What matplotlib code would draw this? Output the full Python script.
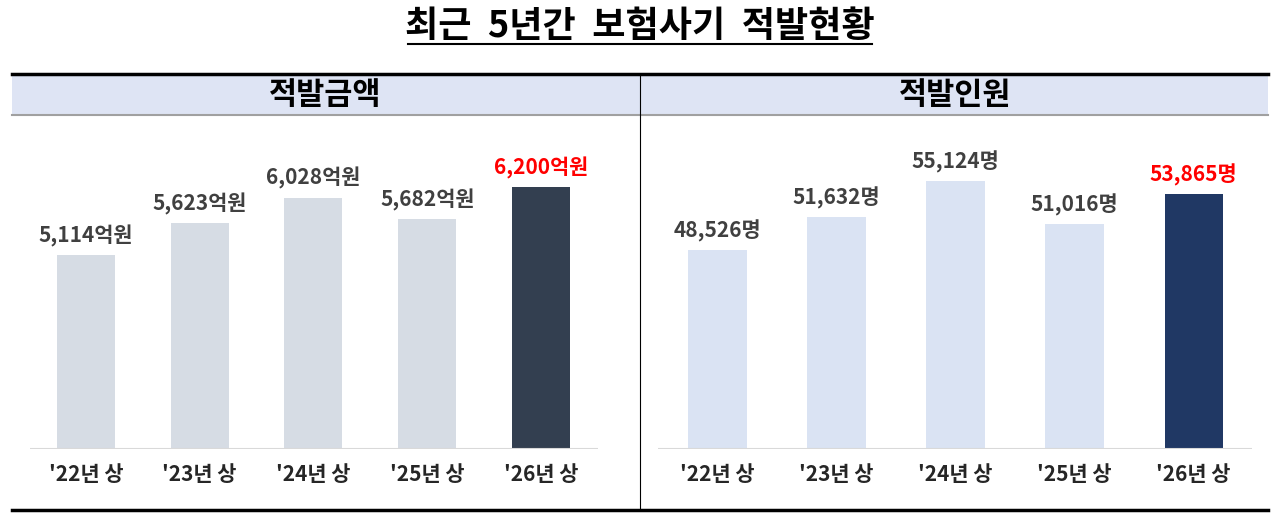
import matplotlib
matplotlib.use("Agg")
import matplotlib.pyplot as plt
from matplotlib.lines import Line2D
from matplotlib.patches import Rectangle

plt.rcParams['font.family'] = ['Noto Sans CJK KR', 'DejaVu Sans']

# data
periods = ["'22년 상", "'23년 상", "'24년 상", "'25년 상", "'26년 상"]
amount = [5114, 5623, 6028, 5682, 6200]      # 억원
people = [48526, 51632, 55124, 51016, 53865]  # 명

W, H = 1280, 522
fig = plt.figure(figsize=(12.8, 5.22), dpi=100)


def px_axes(x0, x1, ytop, ybot):
    # pixel box (origin top-left) -> figure fraction axes
    return fig.add_axes([x0 / W, 1 - ybot / H, (x1 - x0) / W, (ybot - ytop) / H])


# frame: title, thick rules, header band, divider
fig.text(640 / W, 1 - 26 / H, "최근  5년간  보험사기  적발현황", ha='center', va='center',
         fontsize=26, fontweight='bold', color='black')
fig.add_artist(Line2D([408 / W, 872 / W], [1 - 44 / H] * 2, color='black', lw=1.5))
fig.add_artist(Rectangle((12 / W, 1 - 115 / H), 1256 / W, 41 / H, facecolor='#dee4f4',
                         edgecolor='none', transform=fig.transFigure))
fig.add_artist(Line2D([12 / W, 1268 / W], [1 - 74 / H] * 2, color='black', lw=2.5))
fig.add_artist(Line2D([12 / W, 1268 / W], [1 - 115 / H] * 2, color='#a0a0a0', lw=1.5))
fig.add_artist(Line2D([12 / W, 1268 / W], [1 - 510 / H] * 2, color='black', lw=2.5))
fig.add_artist(Line2D([640 / W, 640 / W], [1 - 510 / H, 1 - 75 / H], color='black', lw=0.8))
fig.text(325 / W, 1 - 95 / H, "적발금액", ha='center', va='center', fontsize=22, fontweight='bold')
fig.text(955 / W, 1 - 95 / H, "적발인원", ha='center', va='center', fontsize=22, fontweight='bold')


def panel(ax, vals, unit, ymin, scale, colors, xlim, width, top_px):
    x = range(len(vals))
    ax.bar(x, vals, width=width, color=colors, bottom=0, zorder=2)
    ax.set_xlim(*xlim)
    # scale: pixels per unit, axes height in pixels = 449 - top_px
    ax.set_ylim(ymin, ymin + (449 - top_px) / scale)
    for s in ax.spines.values():
        s.set_visible(False)
    ax.axhline(ymin, color='#d9d9d9', lw=1.5, zorder=3)
    ax.set_yticks([])
    ax.set_xticks(list(x))
    ax.set_xticklabels(periods, fontsize=15, fontweight='bold', color='#262626')
    ax.tick_params(axis='x', length=0, pad=11)
    for i, v in enumerate(vals):
        c = '#ff0000' if i == len(vals) - 1 else '#404040'
        ax.annotate(f"{v:,}{unit}", (i, v), xytext=(0, 6), textcoords='offset points',
                    ha='center', va='bottom', fontsize=15, fontweight='bold', color=c)


ax1 = px_axes(30, 598, 130, 449)
panel(ax1, amount, "억원", 2015, 0.0626,
      ['#d6dce4'] * 4 + ['#333f50'], (-0.49, 4.5), 0.51, 130)

ax2 = px_axes(658, 1252, 130, 449)
panel(ax2, people, "명", 29500, 0.01046,
      ['#dae3f3'] * 4 + ['#203864'], (-0.5, 4.49), 0.49, 130)

fig.savefig("out.png", dpi=100)
